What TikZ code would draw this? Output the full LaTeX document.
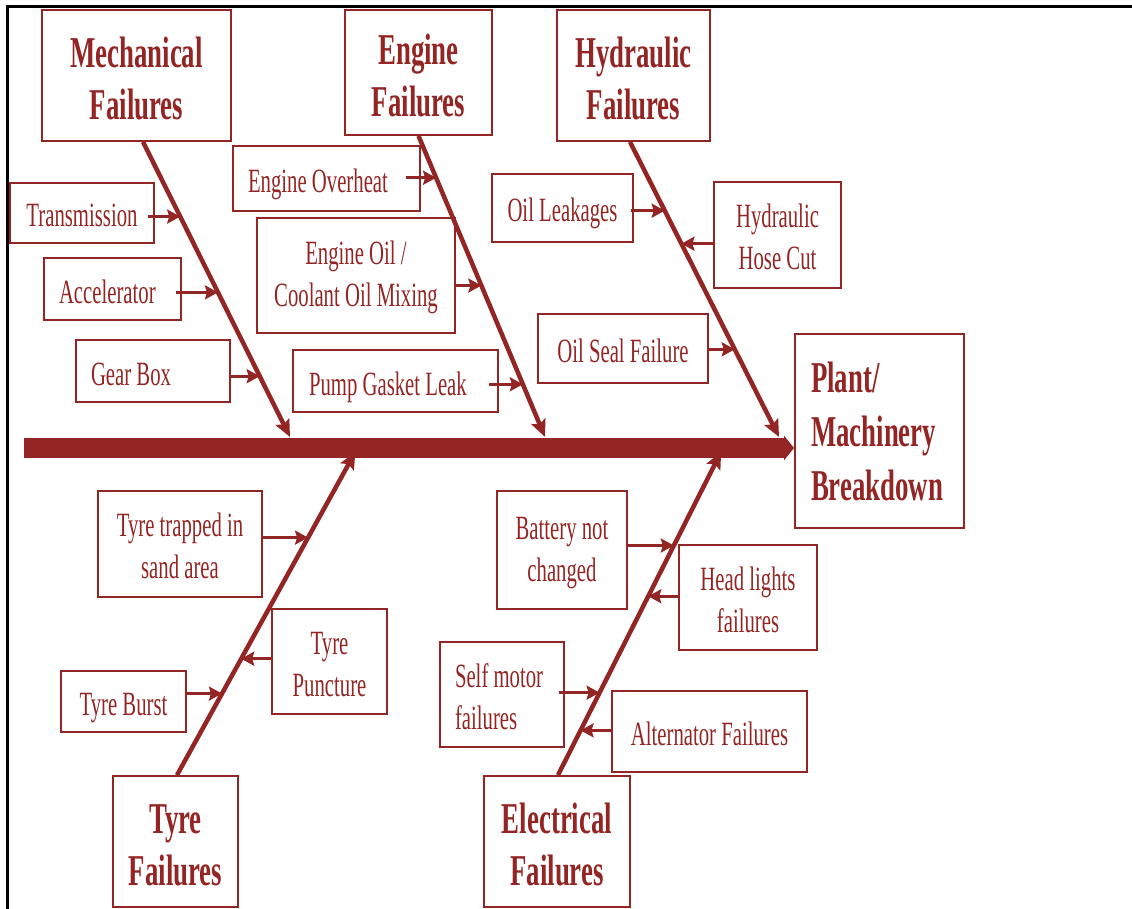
\documentclass[tikz,border=0pt]{standalone}
\usepackage{fontspec}
\setmainfont[FakeStretch=0.61]{Liberation Serif}
\usetikzlibrary{arrows.meta,calc}
\definecolor{fb}{RGB}{147,38,36}
% a line of fixed width, set flush left
\newcommand\lbox[2]{\makebox[#1][l]{#2}}

\begin{document}
\begin{tikzpicture}[x=1pt,y=-1pt,
  box/.style={draw=fb, line width=1.8pt, text=fb, inner sep=0pt, align=center,
              font=\fontsize{34}{42}\selectfont},
  head/.style={box, font=\fontsize{44}{52}\selectfont\bfseries},
  headtext/.style={text height=88pt},
  oneline/.style={text height=30pt, text depth=2pt},
  twoline/.style={text height=70pt},
  bone/.style={draw=fb, line width=4.5pt, -{Stealth[length=17pt,width=15pt,inset=3pt]}},
  lowbone/.style={bone, shorten >=-7pt},
  twig/.style={draw=fb, line width=3pt, -{Stealth[length=13pt,width=14pt,inset=2pt]}},
  spine/.style={draw=fb, line width=20pt, -{Triangle[length=10pt,width=24pt]}}]

\useasboundingbox (0,0) rectangle (1132,909);

% page frame (top and left rules)
\draw[line width=3pt] (7,909) -- (7,7) -- (1132,7);

% category boxes
\node[head, headtext, minimum width=189pt, minimum height=131pt] (mech) at (136.5,75.5) {Mechanical\\Failures};
\node[head, headtext, minimum width=147pt, minimum height=125pt] (eng) at (418.5,72.5) {Engine\\Failures};
\node[head, headtext, minimum width=153pt, minimum height=131pt] (hyd) at (633.5,75.5) {Hydraulic\\Failures};
\node[head, headtext, minimum width=125pt, minimum height=131pt] (tyre) at (175.5,841.5) {Tyre\\Failures};
\node[head, headtext, minimum width=146pt, minimum height=131pt] (elec) at (557,841.5) {Electrical\\Failures};

% effect
\node[head, inner xsep=16pt, minimum height=194pt,
      font=\fontsize{44}{54}\selectfont\bfseries] (effect) at (879.5,431)
  {\lbox{137pt}{Plant/}\\\lbox{137pt}{Machinery}\\\lbox{137pt}{Breakdown}};

% causes, upper half
\node[box, oneline, minimum width=144pt, minimum height=60pt] (trans) at (82,213) {Transmission};
\node[box, oneline, inner xsep=15pt, minimum height=62pt] (acc) at (112.5,289) {\lbox{107pt}{Accelerator}};
\node[box, oneline, inner xsep=15pt, minimum height=62pt] (gear) at (153,371) {\lbox{124pt}{Gear Box}};
\node[box, oneline, inner xsep=15pt, minimum height=65pt] (overheat) at (326.5,178.5) {\lbox{157pt}{Engine Overheat}};
\node[box, twoline, minimum width=198pt, minimum height=115pt] (mix) at (356,275.5) {Engine Oil /\\Coolant Oil Mixing};
\node[box, oneline, inner xsep=16pt, minimum height=62pt] (pump) at (395.5,381) {\lbox{173pt}{Pump Gasket Leak}};
\node[box, oneline, minimum width=141pt, minimum height=68pt] (leak) at (562.5,208) {Oil Leakages};
\node[box, twoline, minimum width=127pt, minimum height=106pt] (hose) at (777.5,235) {Hydraulic\\Hose Cut};
\node[box, oneline, minimum width=170pt, minimum height=69pt] (seal) at (623,348.5) {Oil Seal Failure};

% causes, lower half
\node[box, twoline, minimum width=164pt, minimum height=106pt] (sand) at (180,544) {Tyre trapped in\\sand area};
\node[box, twoline, minimum width=115pt, minimum height=105pt] (punct) at (329.5,661.5) {Tyre\\Puncture};
\node[box, oneline, minimum width=125pt, minimum height=61pt] (burst) at (123.5,701.5) {Tyre Burst};
\node[box, twoline, minimum width=130pt, minimum height=118pt] (batt) at (562,550) {Battery not\\changed};
\node[box, twoline, minimum width=138pt, minimum height=105pt] (lights) at (748,597.5) {Head lights\\failures};
\node[box, twoline, inner xsep=15pt, minimum height=105pt] (motor) at (502,694.5)
  {\lbox{94pt}{Self motor}\\\lbox{94pt}{failures}};
\node[box, oneline, minimum width=195pt, minimum height=81pt] (alt) at (709.5,731.5) {Alternator Failures};

% bone end points on the spine
\coordinate (mtip) at (290,437);
\coordinate (etip) at (545,437);
\coordinate (htip) at (779,437);
\coordinate (ttip) at (352,458);
\coordinate (ltip) at (718,458);

% attachment points along the bones
\path ([xshift=6.5pt]mech.south) -- (mtip)
  coordinate[pos=0.253] (m1) coordinate[pos=0.510] (m2) coordinate[pos=0.794] (m3);
\path (eng.south) -- (etip)
  coordinate[pos=0.139] (e1) coordinate[pos=0.497] (e2) coordinate[pos=0.825] (e3);
\path ([xshift=-3.5pt]hyd.south) -- (htip)
  coordinate[pos=0.233] (h1) coordinate[pos=0.345] (h2) coordinate[pos=0.703] (h3);
\path ([xshift=1.5pt]tyre.north) -- (ttip)
  coordinate[pos=0.749] (t1) coordinate[pos=0.367] (t2) coordinate[pos=0.257] (t3);
\path ([xshift=1pt]elec.north) -- (ltip)
  coordinate[pos=0.724] (l1) coordinate[pos=0.564] (l2) coordinate[pos=0.260] (l3) coordinate[pos=0.141] (l4);

% bones
\draw[bone] ([xshift=6.5pt]mech.south) -- (mtip);
\draw[bone] (eng.south) -- (etip);
\draw[bone] ([xshift=-3.5pt]hyd.south) -- (htip);
\draw[lowbone] ([xshift=1.5pt]tyre.north) -- (ttip);
\draw[lowbone] ([xshift=1pt]elec.north) -- (ltip);

% spine, drawn over the bone heads
\coordinate (tail) at (24,448);
\draw[spine] (tail) -- (effect.west |- tail);

% cause arrows
\draw[twig] ($(trans.east |- m1)+(-7,0)$) -- (m1);
\draw[twig] ($(acc.east |- m2)+(-6,0)$) -- (m2);
\draw[twig] (gear.east |- m3) -- (m3);
\draw[twig] ($(overheat.east |- e1)+(-15,0)$) -- (e1);
\draw[twig] (mix.east |- e2) -- (e2);
\draw[twig] ($(pump.east |- e3)+(-10,0)$) -- (e3);
\draw[twig] ($(leak.east |- h1)+(-3,0)$) -- (h1);
\draw[twig] (hose.west |- h2) -- (h2);
\draw[twig] (seal.east |- h3) -- (h3);
\draw[twig] (sand.east |- t1) -- (t1);
\draw[twig] (punct.west |- t2) -- (t2);
\draw[twig] (burst.east |- t3) -- (t3);
\draw[twig] (batt.east |- l1) -- (l1);
\draw[twig] (lights.west |- l2) -- (l2);
\draw[twig] ($(motor.east |- l3)+(-6,0)$) -- (l3);
\draw[twig] (alt.west |- l4) -- (l4);
\end{tikzpicture}
\end{document}
